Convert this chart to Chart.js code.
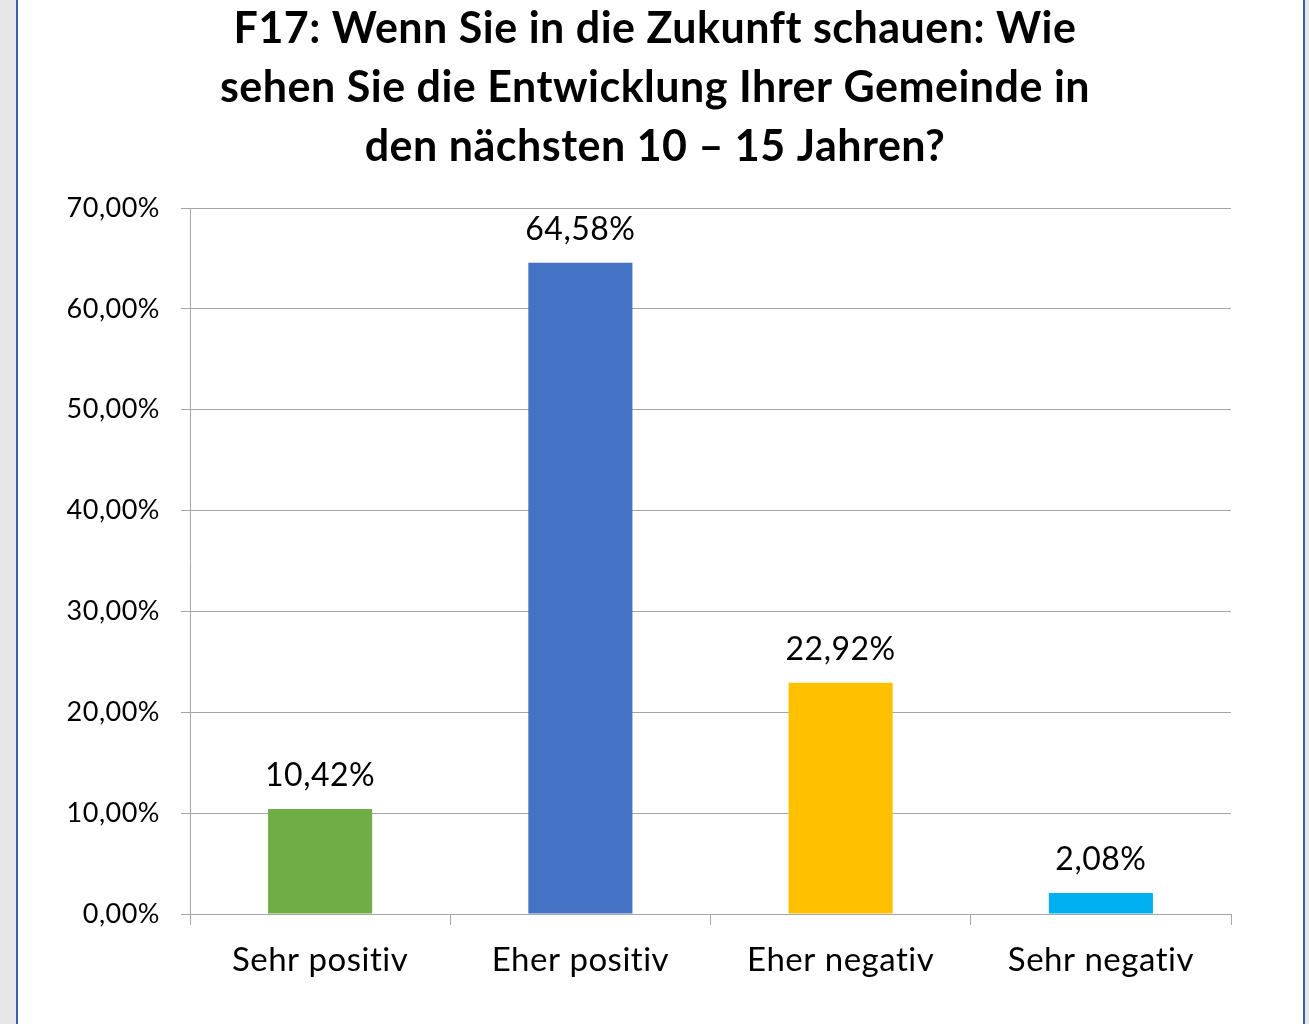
<!DOCTYPE html>
<html>
<head>
<meta charset="utf-8">
<script src="https://cdn.jsdelivr.net/npm/chart.js@4.4.0/dist/chart.umd.min.js"></script>
<style>
  html, body { margin: 0; padding: 0; background: #e7e7e7; }
  #frame {
    position: absolute; left: 16px; top: 0;
    width: 1285px; height: 1024px;
    background: #fff;
    border-left: 2px solid #3a5ea8;
    border-right: 2px solid #3a5ea8;
  }
  canvas { display: block; }
</style>
</head>
<body>
<div id="frame"><canvas id="chart" width="1285" height="1024"></canvas></div>
<script>
// Daten aus der Grafik
const titleLines = [
	"F17: Wenn Sie in die Zukunft schauen: Wie",
	"sehen Sie die Entwicklung Ihrer Gemeinde in",
	"den nächsten 10 – 15 Jahren?",
];
const categories = ["Sehr positiv", "Eher positiv", "Eher negativ", "Sehr negativ"];
const values = [10.42, 64.58, 22.92, 2.08];
const barColors = ["#70AD47", "#4472C4", "#FFC000", "#00B0F0"];
const yMax = 70;
const yStep = 10;

const FONT = "Lato, 'Open Sans', sans-serif";

function fmt(v) {
	return v.toFixed(2).replace(".", ",") + "%";
}

// etwas Laufweite, damit keine Ligaturen entstehen
const spacingPlugin = {
	id: "spacing",
	beforeDraw(chart) {
		chart.ctx.letterSpacing = "0.5px";
	},
};

// Titel selbst zeichnen (zentriert wie im Original)
const titlePlugin = {
	id: "ownTitle",
	afterDraw(chart) {
		const ctx = chart.ctx;
		ctx.save();
		ctx.fillStyle = "#000";
		ctx.font = "bold 43px " + FONT;
		ctx.textAlign = "center";
		ctx.textBaseline = "alphabetic";
		titleLines.forEach((line, i) => {
			ctx.fillText(line, 637, 43 + i * 59);
		});
		ctx.restore();
	},
};

// Werte über den Balken
const labelPlugin = {
	id: "barLabels",
	afterDatasetsDraw(chart) {
		const ctx = chart.ctx;
		const meta = chart.getDatasetMeta(0);
		ctx.save();
		ctx.fillStyle = "#000";
		ctx.font = "32px " + FONT;
		ctx.textAlign = "center";
		ctx.textBaseline = "alphabetic";
		meta.data.forEach((bar, i) => {
			ctx.fillText(fmt(values[i]), bar.x, bar.y - 23);
		});
		ctx.restore();
	},
};

const ctx = document.getElementById("chart").getContext("2d");
new Chart(ctx, {
	type: "bar",
	data: {
		labels: categories,
		datasets: [
			{
				data: values,
				backgroundColor: barColors,
				borderWidth: 0,
				barPercentage: 0.4,
				categoryPercentage: 1,
			},
		],
	},
	options: {
		responsive: false,
		animation: false,
		layout: {
			padding: { top: 208, right: 72, bottom: 0, left: 0 },
		},
		plugins: {
			legend: { display: false },
			tooltip: { enabled: false },
		},
		scales: {
			x: {
				grid: {
					offset: true,
					drawOnChartArea: false,
					drawTicks: true,
					tickLength: 11,
					color: "#a6a6a6",
				},
				border: { color: "#a6a6a6", width: 1 },
				ticks: {
					color: "#000",
					font: { family: FONT, size: 33 },
					padding: 16,
				},
				afterFit(scale) {
					scale.height = 110;
				},
			},
			y: {
				min: 0,
				max: yMax,
				ticks: {
					stepSize: yStep,
					color: "#000",
					font: { family: FONT, size: 27 },
					padding: 21,
					callback: (v) => fmt(v),
				},
				grid: {
					color: "#a6a6a6",
					tickLength: 9,
				},
				border: { color: "#a6a6a6", width: 1 },
				afterFit(scale) {
					scale.width = 172;
				},
			},
		},
	},
	plugins: [spacingPlugin, titlePlugin, labelPlugin],
});
</script>
</body>
</html>
